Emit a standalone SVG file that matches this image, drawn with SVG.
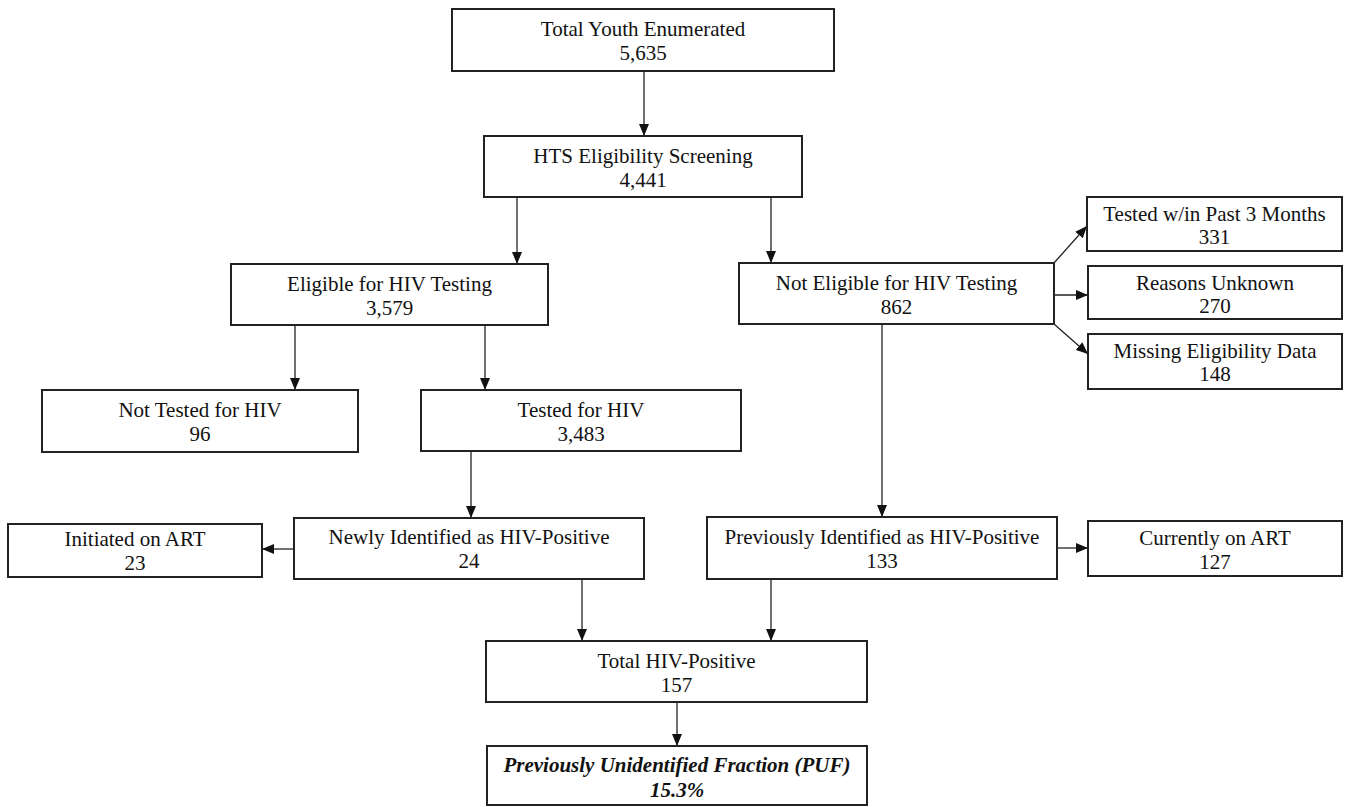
<svg xmlns="http://www.w3.org/2000/svg" width="1351" height="807" viewBox="0 0 1351 807">
<defs>
<marker id="ah" markerUnits="userSpaceOnUse" markerWidth="12" markerHeight="10" viewBox="0 0 12 10" refX="12" refY="5" orient="auto">
<path d="M0,0 L12,5 L0,10 Z" fill="#111"/>
</marker>
</defs>
<style>
.box{fill:#fff;stroke:#222;stroke-width:2}
.t{font-family:"Liberation Serif","Times New Roman",serif;font-size:21px;fill:#111;text-anchor:middle}
.b{font-weight:bold;font-style:italic}
.c{stroke:#222;stroke-width:1.3;fill:none;marker-end:url(#ah)}
</style>
<rect width="1351" height="807" fill="#fff"/>
<g id="connectors">
<line class="c" x1="644" y1="71" x2="644" y2="136"/>
<line class="c" x1="517" y1="197" x2="517" y2="264"/>
<line class="c" x1="771" y1="197" x2="771" y2="263"/>
<line class="c" x1="1054" y1="263" x2="1087" y2="226"/>
<line class="c" x1="1054" y1="295" x2="1088" y2="295"/>
<line class="c" x1="1054" y1="324" x2="1088" y2="354"/>
<line class="c" x1="295" y1="325" x2="295" y2="390"/>
<line class="c" x1="485" y1="325" x2="485" y2="390"/>
<line class="c" x1="471" y1="451" x2="471" y2="518"/>
<line class="c" x1="882" y1="324" x2="882" y2="517"/>
<line class="c" x1="294" y1="549" x2="262" y2="549"/>
<line class="c" x1="1057" y1="548" x2="1088" y2="548"/>
<line class="c" x1="582" y1="579" x2="582" y2="641"/>
<line class="c" x1="771" y1="579" x2="771" y2="641"/>
<line class="c" x1="677" y1="702" x2="677" y2="746"/>
</g>
<g id="n-total-youth">
<rect class="box" x="452" y="9" width="382" height="62"/>
<text class="t" x="643" y="36">Total Youth Enumerated</text>
<text class="t" x="643" y="60">5,635</text>
</g>
<g id="n-hts">
<rect class="box" x="484" y="136" width="318" height="61"/>
<text class="t" x="643" y="163">HTS Eligibility Screening</text>
<text class="t" x="643" y="187">4,441</text>
</g>
<g id="n-eligible">
<rect class="box" x="231" y="264" width="317" height="61"/>
<text class="t" x="389.5" y="291">Eligible for HIV Testing</text>
<text class="t" x="389.5" y="315">3,579</text>
</g>
<g id="n-not-eligible">
<rect class="box" x="739" y="263" width="315" height="61"/>
<text class="t" x="896.5" y="290">Not Eligible for HIV Testing</text>
<text class="t" x="896.5" y="314">862</text>
</g>
<g id="n-tested-3m">
<rect class="box" x="1087" y="197" width="255" height="54"/>
<text class="t" x="1214.5" y="221">Tested w/in Past 3 Months</text>
<text class="t" x="1214.5" y="244">331</text>
</g>
<g id="n-reasons-unknown">
<rect class="box" x="1088" y="266" width="254" height="53"/>
<text class="t" x="1215" y="290">Reasons Unknown</text>
<text class="t" x="1215" y="313">270</text>
</g>
<g id="n-missing">
<rect class="box" x="1088" y="334" width="254" height="55"/>
<text class="t" x="1215" y="358">Missing Eligibility Data</text>
<text class="t" x="1215" y="381">148</text>
</g>
<g id="n-not-tested">
<rect class="box" x="42" y="390" width="316" height="62"/>
<text class="t" x="200" y="417">Not Tested for HIV</text>
<text class="t" x="200" y="441">96</text>
</g>
<g id="n-tested">
<rect class="box" x="421" y="390" width="320" height="61"/>
<text class="t" x="581" y="417">Tested for HIV</text>
<text class="t" x="581" y="441">3,483</text>
</g>
<g id="n-initiated">
<rect class="box" x="8" y="524" width="254" height="53"/>
<text class="t" x="135" y="546">Initiated on ART</text>
<text class="t" x="135" y="570">23</text>
</g>
<g id="n-newly">
<rect class="box" x="294" y="518" width="350" height="61"/>
<text class="t" x="469" y="544">Newly Identified as HIV-Positive</text>
<text class="t" x="469" y="568">24</text>
</g>
<g id="n-previously">
<rect class="box" x="707" y="517" width="350" height="62"/>
<text class="t" x="882" y="544">Previously Identified as HIV-Positive</text>
<text class="t" x="882" y="568">133</text>
</g>
<g id="n-currently">
<rect class="box" x="1088" y="521" width="254" height="55"/>
<text class="t" x="1215" y="545">Currently on ART</text>
<text class="t" x="1215" y="569">127</text>
</g>
<g id="n-total-pos">
<rect class="box" x="486" y="641" width="381" height="61"/>
<text class="t" x="676.5" y="668">Total HIV-Positive</text>
<text class="t" x="676.5" y="692">157</text>
</g>
<g id="n-puf">
<rect class="box" x="487" y="746" width="380" height="59"/>
<text class="t b" x="677" y="772">Previously Unidentified Fraction (PUF)</text>
<text class="t b" x="677" y="797">15.3%</text>
</g>
</svg>
